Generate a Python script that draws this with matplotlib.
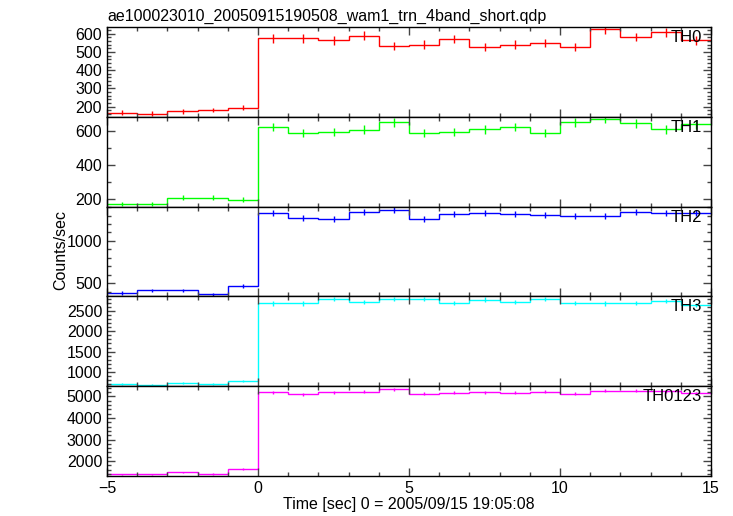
import matplotlib
matplotlib.use("Agg")
import matplotlib.pyplot as plt
from matplotlib.ticker import MultipleLocator
import numpy as np

plt.rcParams['font.family'] = ['Liberation Sans', 'DejaVu Sans']

# 1 s bins from -5 to 15
bin_edges = list(range(-5, 16))

th0 = [167, 162, 175, 182, 193, 576, 576, 563, 589, 534,
       540, 571, 527, 540, 549, 527, 626, 582, 607, 563]
th0_err = [13, 13, 13, 13, 14, 24, 24, 24, 24, 23,
           23, 24, 23, 23, 23, 23, 25, 24, 25, 24]

th1 = [170, 169, 207, 207, 194, 620, 588, 592, 606, 649,
       585, 594, 608, 620, 585, 649, 668, 643, 608, 637]
th1_err = [13, 13, 14, 14, 14, 25, 24, 24, 25, 25,
           24, 24, 25, 25, 24, 25, 26, 25, 25, 25]

th2 = [383, 414, 414, 367, 465, 1333, 1274, 1263, 1340, 1368,
       1255, 1321, 1333, 1321, 1301, 1290, 1290, 1340, 1333, 1333]
th2_err = [20, 20, 20, 19, 22, 37, 36, 36, 37, 37,
           35, 36, 37, 36, 36, 36, 36, 37, 37, 37]

th3 = [714, 690, 722, 697, 788, 2680, 2680, 2796, 2715, 2796,
       2789, 2698, 2772, 2722, 2796, 2690, 2680, 2698, 2730, 2631]
th3_err = [27, 26, 27, 26, 28, 52, 52, 53, 52, 53,
           53, 52, 53, 52, 53, 52, 52, 52, 52, 51]

th0123 = [1385, 1385, 1479, 1414, 1617, 5185, 5108, 5200, 5215, 5338,
          5123, 5169, 5200, 5169, 5215, 5123, 5262, 5262, 5230, 5154]
th0123_err = [37, 37, 38, 38, 40, 72, 71, 72, 72, 73,
              72, 72, 72, 72, 72, 72, 73, 73, 72, 72]

names = ["TH0", "TH1", "TH2", "TH3", "TH0123"]
series = [th0, th1, th2, th3, th0123]
errors = [th0_err, th1_err, th2_err, th3_err, th0123_err]
colors = ["#ff0000", "#00ff00", "#0000ff", "#00ffff", "#ff00ff"]
ylims = [(145, 638), (155, 682), (343, 1407), (654, 2853), (1308, 5475)]
major = [100, 200, 500, 500, 1000]
minor = [20, 100, 100, 100, 200]

fig, axes = plt.subplots(5, 1, sharex=True, figsize=(7.33, 5.16), dpi=100)
fig.subplots_adjust(left=0.146, right=0.970, top=0.948, bottom=0.0775, hspace=0)

edges = np.array(bin_edges, dtype=float)
centers = (edges[:-1] + edges[1:]) / 2

for ax, name, vals, err, c, yl, mj, mn in zip(axes, names, series, errors,
                                              colors, ylims, major, minor):
    ax.stairs(vals, edges, baseline=None, color=c, lw=1.0)
    ax.errorbar(centers, vals, yerr=err, fmt='none', ecolor=c, elinewidth=1.0,
                capsize=0)
    ax.set_ylim(*yl)
    ax.set_xlim(-5, 15)
    ax.yaxis.set_major_locator(MultipleLocator(mj))
    ax.yaxis.set_minor_locator(MultipleLocator(mn))
    ax.xaxis.set_major_locator(MultipleLocator(5))
    ax.xaxis.set_minor_locator(MultipleLocator(1))
    ax.tick_params(which='both', direction='in', top=True, right=True,
                   labelsize=11.5, width=1.0, color='#444444')
    ax.tick_params(which='major', length=6)
    ax.tick_params(which='minor', length=3)
    for s in ax.spines.values():
        s.set_linewidth(1.0)
    ax.text(0.985, 0.965, name, transform=ax.transAxes, ha='right', va='top',
            fontsize=12)

# tick labels as in the picture
axes[0].set_yticks([200, 300, 400, 500, 600])
axes[1].set_yticks([200, 400, 600])
axes[2].set_yticks([500, 1000])
axes[3].set_yticks([1000, 1500, 2000, 2500])
axes[4].set_yticks([2000, 3000, 4000, 5000])

axes[0].set_title("ae100023010_20050915190508_wam1_trn_4band_short.qdp",
                  loc='left', fontsize=11.5, pad=4)
axes[4].set_xlabel("Time [sec] 0 = 2005/09/15 19:05:08", fontsize=11.5,
                   labelpad=1)
fig.text(0.083, 0.515, "Counts/sec", rotation=90, ha='center', va='center',
         fontsize=11.5)

fig.savefig("out.png", dpi=100)
